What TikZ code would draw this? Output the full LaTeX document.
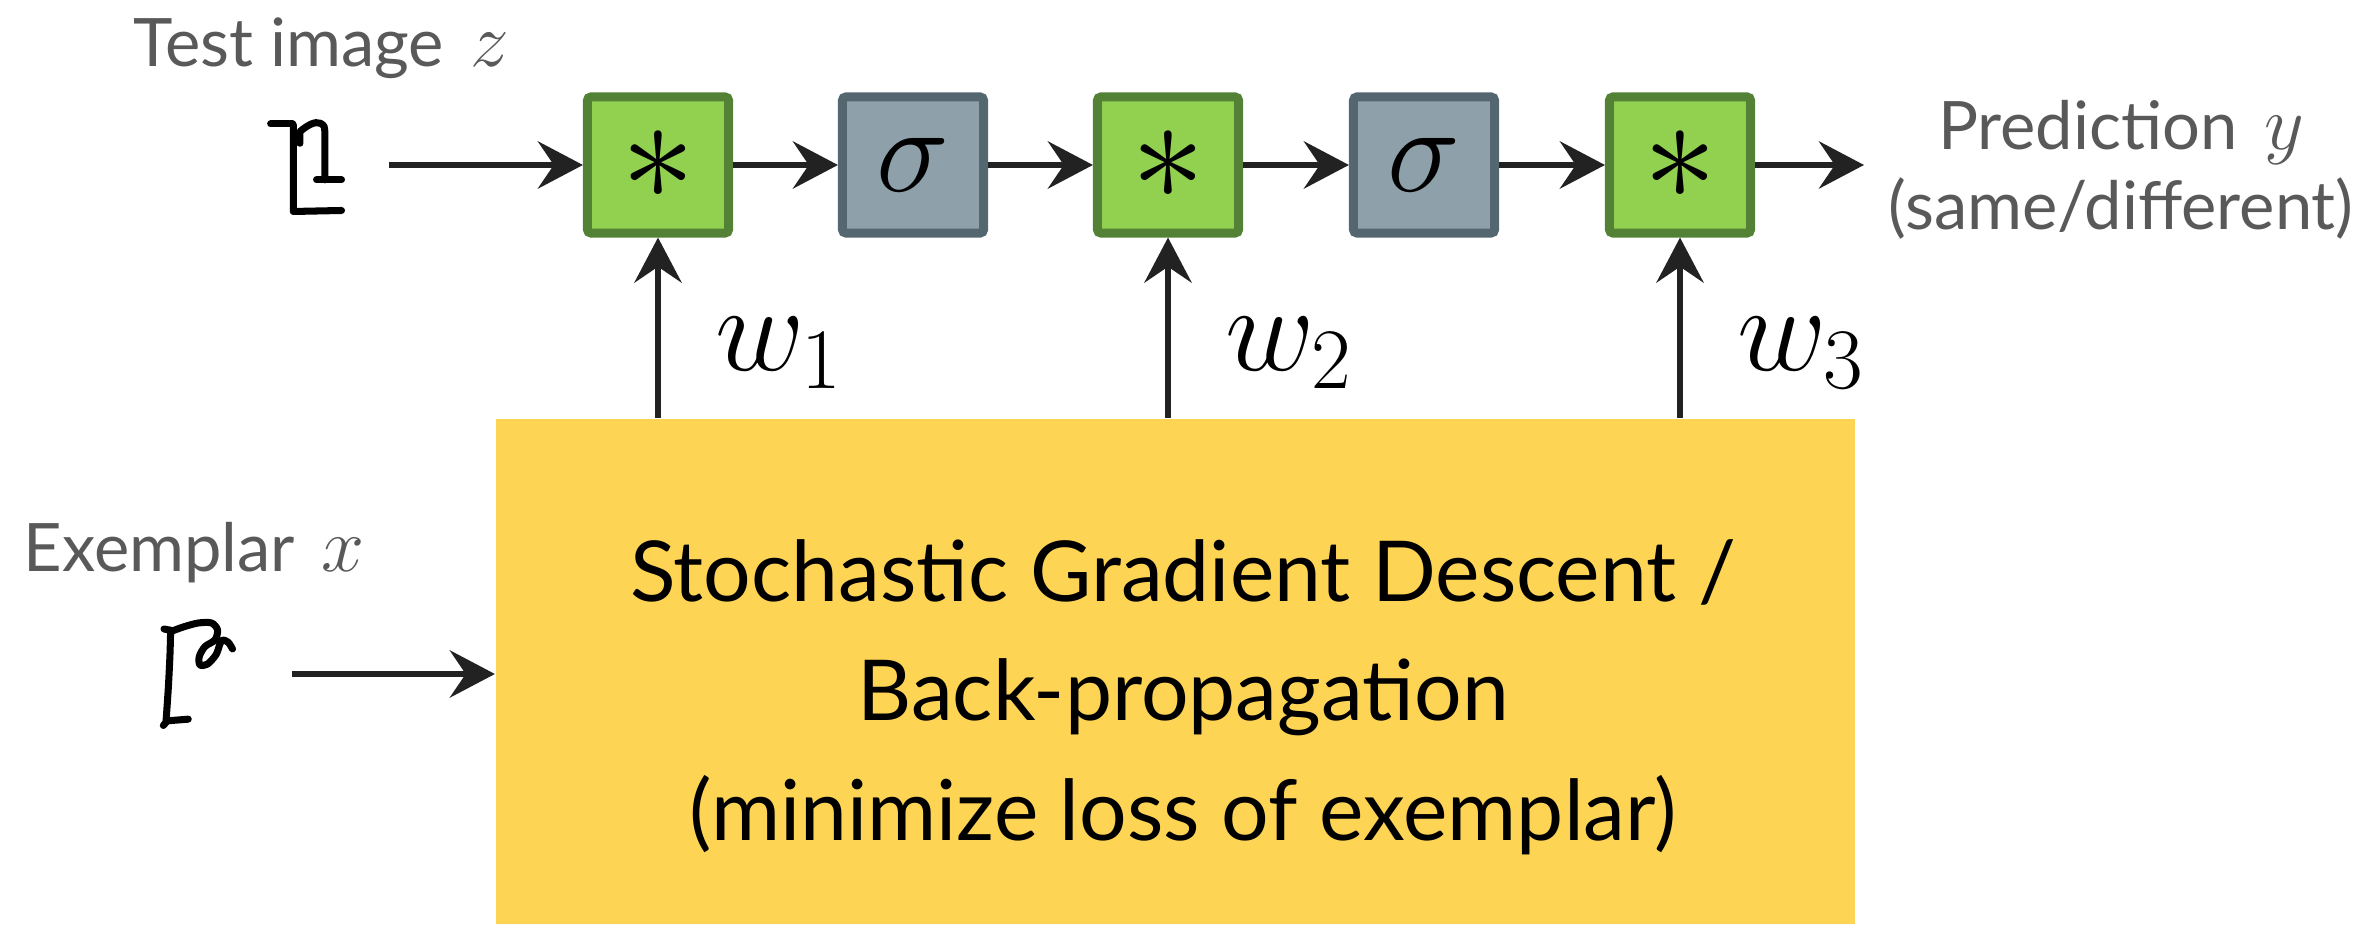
\RequirePackage{fix-cm}
\documentclass[tikz,border=0pt]{standalone}
\usepackage{fontspec}
\setmainfont{Lato}
\usetikzlibrary{arrows.meta}
\definecolor{multfill}{HTML}{92D050}
\definecolor{multdraw}{HTML}{538135}
\definecolor{sigfill}{HTML}{8EA0A9}
\definecolor{sigdraw}{HTML}{546670}
\definecolor{sgdfill}{HTML}{FED454}
\definecolor{labgray}{HTML}{595959}
\definecolor{arrowc}{HTML}{222222}
\newcommand{\capvar}[1]{{\fontsize{22}{26}\selectfont$#1$}}

\begin{document}
\begin{tikzpicture}[x=0.01cm, y=0.01cm, >={Stealth[length=12.8pt,width=13.4pt,inset=4.5pt]},
		flow/.style={->, draw=arrowc, line width=1.85pt},
		opbox/.style={rectangle, line width=2.56pt, rounded corners=1pt, minimum width=1.41cm, minimum height=1.36cm, inner sep=0pt},
		multbox/.style={opbox, fill=multfill, draw=multdraw, font=\fontsize{42}{46}\selectfont},
		sigbox/.style={opbox, fill=sigfill, draw=sigdraw, font=\fontsize{35}{38}\selectfont},
		sgdbox/.style={rectangle, fill=sgdfill, inner sep=0pt, minimum width=13.59cm, minimum height=5.05cm},
		caption/.style={text=labgray, font=\fontsize{19}{23}\selectfont, inner sep=0pt},
		wlab/.style={font=\fontsize{35}{40}\selectfont, inner sep=0pt, anchor=base west, xshift=0.54cm, pos=0.265},
		glyph/.style={line width=2pt, line cap=round, line join=round}]
	\useasboundingbox (0,0) rectangle (2364,924);
	
	% 1. 上方运算链
	\node[multbox] (m1) at (658,759) {$\ast$};
	\node[sigbox] (s1) at (913,759) {$\sigma$};
	\node[multbox] (m2) at (1168,759) {$\ast$};
	\node[sigbox] (s2) at (1424,759) {$\sigma$};
	\node[multbox] (m3) at (1680,759) {$\ast$};
	\coordinate (zin) at (389,759);
	\coordinate (yout) at (1864,759);
	\draw[flow] (zin) -- (m1);
	\draw[flow] (m1) -- (s1);
	\draw[flow] (s1) -- (m2);
	\draw[flow] (m2) -- (s2);
	\draw[flow] (s2) -- (m3);
	\draw[flow] (m3) -- (yout);
	
	% 2. 下方 SGD 框与权重箭头 (多行节点 base = 末行基线)
	\node[sgdbox] (sgd) at (1175.5,252.5) {};
	\node[anchor=base, align=center, font=\fontsize{23.9}{33.9}\selectfont] (sgdtext) at (1183,84)
		{Stochastic Gradient Descent /\\Back-propagation\\(minimize loss of exemplar)};
	\draw[flow] (m1 |- sgd.north) -- node[wlab] (w1) {$w_1$} (m1);
	\draw[flow] (m2 |- sgd.north) -- node[wlab] (w2) {$w_2$} (m2);
	\draw[flow] (m3 |- sgd.north) -- node[wlab] (w3) {$w_3$} (m3);
	\coordinate (xin) at (292,250);
	\draw[flow] (xin) -- (xin -| sgd.west);
	
	% 3. 文字标注
	\node[caption, anchor=base west] (zlab) at (133,857) {Test image\hspace{0.4em}\capvar{z}};
	\node[caption, anchor=base west] (xlab) at (23,352) {Exemplar\hspace{0.4em}\capvar{x}};
	\node[caption, anchor=base, align=center] (ylab) at (2121,694) {Prediction\hspace{0.4em}\capvar{y}\\(same/different)};
	
	% 4. 手写字符
	\begin{scope}[shift={(250,824)}, x=0.003333cm, y=-0.003333cm, glyph]
		\draw (62,72) -- (128,72);
		\draw (130,74) -- (130,335) -- (275,332);
		\draw (150,130) -- (150,95) .. controls (170,78) and (195,62) .. (212,70) .. controls (224,78) .. (225,100) -- (225,240);
		\draw (200,240) -- (275,240);
	\end{scope}
	\begin{scope}[shift={(150,309)}, x=0.003333cm, y=-0.003333cm, glyph]
		\draw (42,42) -- (62,46);
		\draw plot[smooth] coordinates {(62,46) (60,120) (55,220) (48,322)};
		\draw (40,332) -- (52,318) -- (115,313);
		\draw plot[smooth] coordinates {(62,50) (100,36) (145,24) (185,24) (203,45) (195,75) (165,95) (148,125) (150,150) (172,148) (198,120) (210,88) (218,75) (235,82) (248,102)};
	\end{scope}
\end{tikzpicture}
\end{document}
